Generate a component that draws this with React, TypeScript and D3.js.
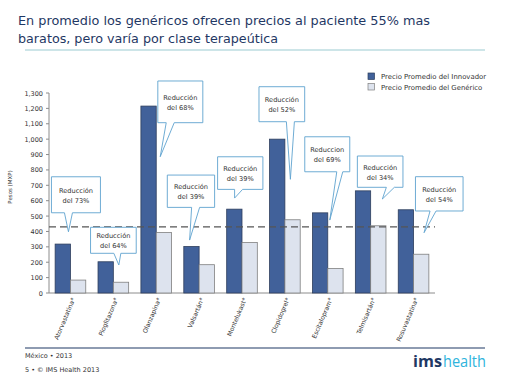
import React from "react";
import * as d3 from "d3";

const categories = ["Atorvastatina*", "Pioglitazona*", "Olanzapina*", "Valsartán*", "Montelukast*", "Clopidogrel*", "Escitalopram*", "Telmisartán*", "Rosuvastatina*"];
const innovator = [318, 203, 1215, 302, 545, 1000, 521, 664, 541];
const generic = [84, 70, 393, 184, 328, 476, 159, 437, 252];
const averageLine = 430;
const yTicks = [0, 100, 200, 300, 400, 500, 600, 700, 800, 900, 1000, 1100, 1200, 1300];
const seriesNames = ["Precio Promedio del Innovador", "Precio Promedio del Genérico"];
const calloutTitles = ["Reducción", "Reducción", "Reducción", "Reducción", "Reducción", "Reducción", "Reduccion", "Reducción", "Reducción"];
const calloutPct = ["del 73%", "del 64%", "del 68%", "del 39%", "del 39%", "del 52%", "del 69%", "del 34%", "del 54%"];
// tip positions in data units (value), box placement relative to tip (layout)
const calloutTipValue = [398, 182, 886, 344, 617, 739, 474, 611, 392];
const calloutLayout = [
  { dx: -2, bx: -17, by: -55, bw: 49, bh: 36, b0: -4, b1: 4 },
  { dx: 5.5, bx: -28.3, by: -37.7, bw: 45.7, bh: 26, b0: -5, b1: 2 },
  { dx: 4, bx: -2.4, by: -75.7, bw: 45, bh: 41.7, b0: 6, b1: 14 },
  { dx: -9.5, bx: -22.3, by: -65, bw: 47.3, bh: 32.3, b0: 2, b1: 10 },
  { dx: -7.4, bx: -17, by: -41.3, bw: 45.3, bh: 32.6, b0: 0, b1: 8 },
  { dx: 5.5, bx: -31.4, by: -92.6, bw: 45.7, bh: 35, b0: -4, b1: 4 },
  { dx: 2, bx: -25, by: -83.3, bw: 45, bh: 35, b0: 7, b1: 13 },
  { dx: 11.7, bx: -25, by: -43, bw: 45.6, bh: 31.3, b0: 4, b1: 12 },
  { dx: 10.5, bx: -8.6, by: -56, bw: 47.6, bh: 34.3, b0: 6, b1: 12 },
];

const W = 511, H = 383;
const FONT = "'DejaVu Sans', Verdana, sans-serif";
const INNO = "#41619a";
const GEN = "#dde3ee";
const CALL = "#5fa3cf";

export default function App() {
  const x = d3.scaleBand<string>().domain(categories).range([49, 435]).paddingInner(0.286).paddingOuter(0.143);
  const sub = d3.scaleBand<number>().domain([0, 1]).range([0, x.bandwidth()]);
  const y = d3.scaleLinear().domain([0, 1300]).range([293, 93]);

  return (
    <svg width={W} height={H} style={{ position: "absolute", left: 0, top: 0 }} fontFamily={FONT}>
      <rect width={W} height={H} fill="#fff" />
      <text x={18} y={25} fontSize={12.8} fill="#1f3864" textLength={412} lengthAdjust="spacingAndGlyphs">En promedio los genéricos ofrecen precios al paciente 55% mas</text>
      <text x={18} y={43} fontSize={12.8} fill="#1f3864" textLength={260} lengthAdjust="spacingAndGlyphs">baratos, pero varía por clase terapeútica</text>
      <line x1={25} x2={485} y1={50} y2={50} stroke="#9ccbd2" strokeWidth={1.2} />

      {/* y axis */}
      <line x1={49} x2={49} y1={y(1300)} y2={y(0)} stroke="#8c8c8c" />
      {yTicks.map((t) => (
        <g key={t}>
          <line x1={46} x2={49} y1={y(t)} y2={y(t)} stroke="#8c8c8c" />
          <text x={43} y={y(t) + 2.5} fontSize={6.5} textAnchor="end" fill="#333">{d3.format(",")(t)}</text>
        </g>
      ))}
      <text transform={`translate(12,187) rotate(-90)`} fontSize={5.5} textAnchor="middle" fill="#333">Pesos (MXP)</text>
      <line x1={49} x2={435} y1={y(0)} y2={y(0)} stroke="#8c8c8c" />

      {/* bars */}
      {categories.map((c, i) => (
        <g key={c}>
          <rect x={(x(c) ?? 0) + (sub(0) ?? 0)} y={y(innovator[i])} width={sub.bandwidth()} height={y(0) - y(innovator[i])} fill={INNO} stroke="#2d3e5c" strokeWidth={0.8} />
          <rect x={(x(c) ?? 0) + (sub(1) ?? 0)} y={y(generic[i])} width={sub.bandwidth()} height={y(0) - y(generic[i])} fill={GEN} stroke="#7f7f7f" strokeWidth={0.8} />
          <text transform={`translate(${(x(c) ?? 0) + x.bandwidth() / 2 + 5},${y(0) + 6}) rotate(-67)`} fontSize={6.2} textAnchor="end" fill="#333">{c}</text>
        </g>
      ))}

      {/* average dashed line */}
      <line x1={49} x2={435} y1={y(averageLine)} y2={y(averageLine)} stroke="#555" strokeWidth={1.1} strokeDasharray="7,4" />

      {/* callouts */}
      {categories.map((c, i) => {
        const L = calloutLayout[i];
        const tx = (x(c) ?? 0) + x.bandwidth() / 2 + L.dx;
        const ty = y(calloutTipValue[i]);
        const x0 = tx + L.bx, y0 = ty + L.by, x1 = x0 + L.bw, y1 = y0 + L.bh;
        const p = `M${x0},${y0}H${x1}V${y1}H${tx + L.b1}L${tx},${ty}L${tx + L.b0},${y1}H${x0}Z`;
        const cx = (x0 + x1) / 2, cy = (y0 + y1) / 2;
        return (
          <g key={"c" + c}>
            <path d={p} fill="#fff" stroke={CALL} strokeWidth={0.9} />
            <text x={cx} y={cy - 2} fontSize={6.6} textAnchor="middle" fill="#333">{calloutTitles[i]}</text>
            <text x={cx} y={cy + 8} fontSize={6.6} textAnchor="middle" fill="#333">{calloutPct[i]}</text>
          </g>
        );
      })}

      {/* legend */}
      {seriesNames.map((s, i) => (
        <g key={s}>
          <rect x={368} y={73 + i * 10.5} width={6.5} height={6.5} fill={i === 0 ? INNO : GEN} stroke={i === 0 ? "#2d3e5c" : "#7f7f7f"} strokeWidth={0.7} />
          <text x={381} y={79 + i * 10.5} fontSize={6.9} fill="#333">{s}</text>
        </g>
      ))}

      {/* footer */}
      <line x1={25} x2={485} y1={348} y2={348} stroke="#1f3864" strokeWidth={1.2} />
      <text x={25} y={358} fontSize={6.5} fill="#333">México • 2013</text>
      <text x={25} y={371.5} fontSize={6.5} fill="#333">5 • © IMS Health 2013</text>
      <text x={413} y={367} fontSize={15.5} fontFamily="'Open Sans', 'DejaVu Sans', sans-serif" fill="#1f3864" fontWeight="bold" textLength={29} lengthAdjust="spacingAndGlyphs">ims</text>
      <text x={443} y={367} fontSize={15.5} fontFamily="'Open Sans', 'DejaVu Sans', sans-serif" fill="#2fb4dc" textLength={43} lengthAdjust="spacingAndGlyphs">health</text>
    </svg>
  );
}
